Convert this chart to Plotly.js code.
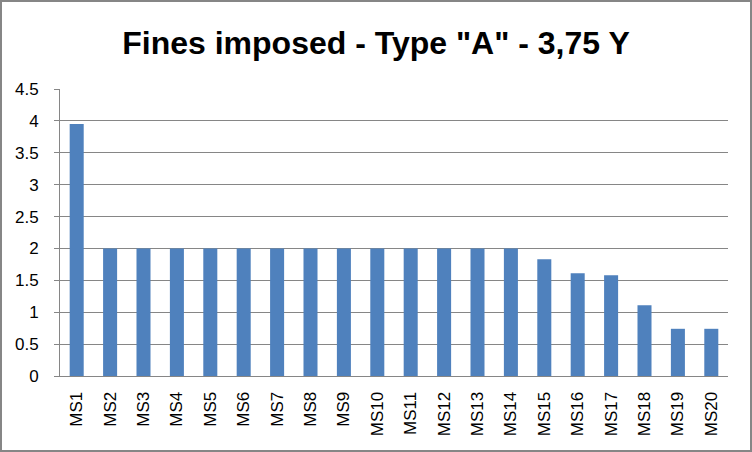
<!DOCTYPE html>
<html>
<head>
<meta charset="utf-8">
<script src="https://cdn.plot.ly/plotly-3.0.1.min.js"></script>
<style>
html,body{margin:0;padding:0;background:#fff;}
#wrap{position:relative;width:752px;height:452px;}
#chart{width:752px;height:452px;}
#frame{position:absolute;left:0;top:0;width:748px;height:448px;border:2px solid #868686;pointer-events:none;}
</style>
</head>
<body>
<div id="wrap"><div id="chart"></div><div id="frame"></div></div>
<script>
const categories = ["MS1","MS2","MS3","MS4","MS5","MS6","MS7","MS8","MS9","MS10","MS11","MS12","MS13","MS14","MS15","MS16","MS17","MS18","MS19","MS20"];
const values = [3.95,2,2,2,2,2,2,2,2,2,2,2,2,2,1.83,1.61,1.58,1.11,0.74,0.74];
const yTicks = [0,0.5,1,1.5,2,2.5,3,3.5,4,4.5];
const yTickLabels = ["0","0.5","1","1.5","2","2.5","3","3.5","4","4.5"];
const titleText = 'Fines imposed - Type "A" - 3,75 Y';

Plotly.newPlot('chart', [{
  type: 'bar',
  x: categories,
  y: values,
  marker: {color: '#4f81bd'},
  hoverinfo: 'x+y'
}], {
  width: 752, height: 452,
  margin: {l: 60, r: 24, t: 89, b: 76},
  paper_bgcolor: '#ffffff',
  plot_bgcolor: '#ffffff',
  bargap: 0.58,
  showlegend: false,
  title: {
    text: titleText,
    font: {family: 'Liberation Sans, Arial, sans-serif', size: 32, color: '#000000', weight: 'bold'},
    x: 0.5, xanchor: 'center', y: 0.905, yanchor: 'middle'
  },
  xaxis: {
    type: 'category',
    tickangle: -90,
    tickfont: {family: 'Liberation Sans, Arial, sans-serif', size: 17, color: '#000000'},
    showgrid: false,
    showline: true, linecolor: '#868686', linewidth: 1,
    ticks: '', ticklen: 0,
    ticklabelstandoff: 8
  },
  yaxis: {
    range: [0, 4.5],
    tickvals: yTicks,
    ticktext: yTickLabels,
    tickfont: {family: 'Liberation Sans, Arial, sans-serif', size: 17, color: '#000000'},
    showgrid: true, gridcolor: '#868686', gridwidth: 1,
    showline: true, linecolor: '#868686', linewidth: 1,
    ticks: 'outside', ticklen: 5, tickcolor: '#868686',
    ticklabelstandoff: 12,
    zeroline: false,
    automargin: false
  }
}, {displayModeBar: false, staticPlot: true});
</script>
</body>
</html>
